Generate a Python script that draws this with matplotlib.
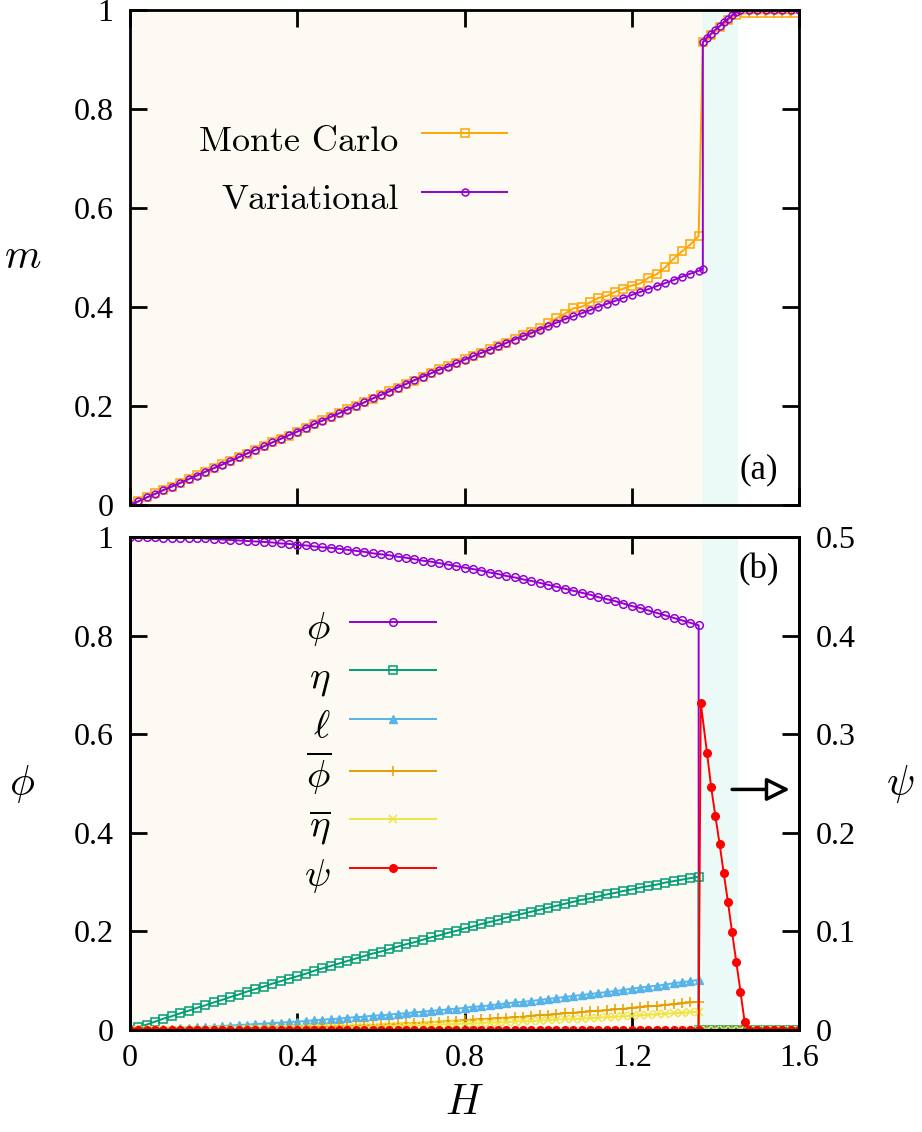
import numpy as np
import matplotlib
matplotlib.use('Agg')
from matplotlib import pyplot as plt
from matplotlib.ticker import FormatStrFormatter

plt.rcParams['font.family'] = 'Liberation Serif'
plt.rcParams['mathtext.fontset'] = 'cm'

# field grid below the transition (step 0.02)
H = list(np.round(np.arange(0, 1.3601, 0.02), 2))

# ---- (a) magnetisation ----
m_var = [0.000, 0.007, 0.015, 0.022, 0.030, 0.037, 0.044, 0.052, 0.059, 0.067,
         0.074, 0.081, 0.089, 0.096, 0.104, 0.111, 0.118, 0.126, 0.133, 0.141,
         0.148, 0.155, 0.163, 0.170, 0.178, 0.185, 0.192, 0.200, 0.207, 0.215,
         0.222, 0.229, 0.237, 0.244, 0.252, 0.259, 0.266, 0.273, 0.279, 0.286,
         0.293, 0.300, 0.307, 0.313, 0.320, 0.327, 0.334, 0.341, 0.347, 0.354,
         0.361, 0.368, 0.375, 0.381, 0.387, 0.393, 0.400, 0.406, 0.412, 0.418,
         0.424, 0.430, 0.436, 0.442, 0.448, 0.454, 0.461, 0.467, 0.473]
m_mc = [0.000, 0.008, 0.015, 0.023, 0.030, 0.037, 0.045, 0.052, 0.060, 0.066,
        0.074, 0.082, 0.089, 0.097, 0.103, 0.111, 0.119, 0.126, 0.134, 0.140,
        0.148, 0.156, 0.163, 0.171, 0.177, 0.185, 0.193, 0.200, 0.207, 0.214,
        0.222, 0.230, 0.237, 0.245, 0.251, 0.259, 0.266, 0.274, 0.280, 0.287,
        0.294, 0.301, 0.307, 0.314, 0.321, 0.328, 0.335, 0.343, 0.350, 0.358,
        0.368, 0.377, 0.386, 0.397, 0.400, 0.409, 0.418, 0.422, 0.430, 0.437,
        0.443, 0.447, 0.459, 0.466, 0.480, 0.497, 0.512, 0.526, 0.543]

H_var_hi = [1.37, 1.37, 1.38, 1.39, 1.40, 1.41, 1.42, 1.43, 1.44, 1.45, 1.46,
            1.48, 1.50, 1.52, 1.54, 1.56, 1.58, 1.60]
m_var_hi = [0.476, 0.935, 0.944, 0.952, 0.960, 0.967, 0.975, 0.982, 0.989, 0.995, 1.000,
            1.000, 1.000, 1.000, 1.000, 1.000, 1.000, 1.000]
H_mc_hi = [1.37, 1.39, 1.41, 1.43, 1.45, 1.47, 1.49, 1.51, 1.53, 1.55, 1.57, 1.59]
m_mc_hi = [0.935, 0.950, 0.966, 0.980, 0.990, 0.993, 0.993, 0.993, 0.993, 0.993, 0.993, 0.993]

# ---- (b) order parameters ----
phi = [1.000, 1.000, 1.000, 1.000, 0.999, 0.999, 0.999, 0.998, 0.998, 0.997,
       0.996, 0.995, 0.994, 0.993, 0.992, 0.991, 0.990, 0.989, 0.987, 0.986,
       0.984, 0.983, 0.981, 0.979, 0.978, 0.976, 0.974, 0.972, 0.970, 0.967,
       0.965, 0.963, 0.960, 0.958, 0.955, 0.952, 0.950, 0.947, 0.944, 0.941,
       0.938, 0.935, 0.932, 0.928, 0.925, 0.921, 0.918, 0.914, 0.911, 0.907,
       0.903, 0.899, 0.895, 0.891, 0.887, 0.883, 0.878, 0.874, 0.870, 0.865,
       0.860, 0.856, 0.851, 0.846, 0.841, 0.836, 0.831, 0.826, 0.821]
eta = [0.000, 0.006, 0.011, 0.017, 0.023, 0.028, 0.034, 0.039, 0.045, 0.050,
       0.056, 0.061, 0.067, 0.072, 0.078, 0.083, 0.088, 0.094, 0.099, 0.104,
       0.109, 0.114, 0.120, 0.125, 0.130, 0.135, 0.140, 0.145, 0.150, 0.155,
       0.159, 0.164, 0.169, 0.174, 0.178, 0.183, 0.188, 0.192, 0.197, 0.201,
       0.206, 0.210, 0.215, 0.219, 0.223, 0.228, 0.232, 0.236, 0.240, 0.244,
       0.248, 0.252, 0.256, 0.260, 0.264, 0.267, 0.271, 0.275, 0.278, 0.282,
       0.285, 0.289, 0.292, 0.295, 0.299, 0.302, 0.305, 0.308, 0.311]
ell = [0.000, 0.001, 0.001, 0.002, 0.003, 0.003, 0.004, 0.005, 0.006, 0.006,
       0.007, 0.008, 0.009, 0.010, 0.011, 0.012, 0.013, 0.014, 0.015, 0.016,
       0.017, 0.018, 0.020, 0.021, 0.022, 0.023, 0.025, 0.026, 0.027, 0.029,
       0.030, 0.031, 0.033, 0.034, 0.036, 0.037, 0.039, 0.040, 0.042, 0.043,
       0.045, 0.047, 0.048, 0.050, 0.052, 0.054, 0.056, 0.057, 0.059, 0.061,
       0.063, 0.065, 0.067, 0.069, 0.071, 0.073, 0.075, 0.077, 0.079, 0.081,
       0.084, 0.086, 0.088, 0.090, 0.092, 0.095, 0.097, 0.099, 0.102]
phibar = [0.000, 0.000, 0.000, 0.000, 0.000, 0.000, 0.000, 0.001, 0.001, 0.001,
          0.001, 0.002, 0.002, 0.002, 0.002, 0.003, 0.003, 0.004, 0.004, 0.004,
          0.005, 0.005, 0.006, 0.007, 0.007, 0.008, 0.008, 0.009, 0.010, 0.010,
          0.011, 0.012, 0.013, 0.014, 0.014, 0.015, 0.016, 0.017, 0.018, 0.019,
          0.020, 0.021, 0.022, 0.023, 0.024, 0.025, 0.026, 0.027, 0.029, 0.030,
          0.031, 0.032, 0.034, 0.035, 0.036, 0.038, 0.039, 0.040, 0.042, 0.043,
          0.045, 0.046, 0.048, 0.049, 0.051, 0.052, 0.054, 0.056, 0.057]
etabar = [0.000, 0.000, 0.000, 0.000, 0.000, 0.000, 0.000, 0.000, 0.001, 0.001,
          0.001, 0.001, 0.001, 0.001, 0.002, 0.002, 0.002, 0.002, 0.003, 0.003,
          0.003, 0.004, 0.004, 0.004, 0.005, 0.005, 0.005, 0.006, 0.006, 0.007,
          0.007, 0.008, 0.008, 0.009, 0.009, 0.010, 0.010, 0.011, 0.012, 0.012,
          0.013, 0.013, 0.014, 0.015, 0.015, 0.016, 0.017, 0.018, 0.018, 0.019,
          0.020, 0.021, 0.022, 0.022, 0.023, 0.024, 0.025, 0.026, 0.027, 0.028,
          0.029, 0.030, 0.031, 0.032, 0.033, 0.034, 0.035, 0.036, 0.037]
psi = [0.0] * len(H)

# above the transition everything but psi vanishes
H_hi = [1.36, 1.38, 1.40, 1.42, 1.44, 1.46, 1.48, 1.50, 1.52, 1.54, 1.56, 1.58, 1.60]
zero_hi = [0.0] * len(H_hi)
H_psi_hi = [1.365, 1.38, 1.39, 1.40, 1.41, 1.42, 1.43, 1.44, 1.45, 1.46, 1.47,
            1.48, 1.50, 1.52, 1.54, 1.56, 1.58, 1.60]
psi_hi = [0.332, 0.281, 0.246, 0.217, 0.189, 0.159, 0.130, 0.099, 0.069, 0.039, 0.008,
          0.0, 0.0, 0.0, 0.0, 0.0, 0.0, 0.0]

H_c1, H_c2 = 1.368, 1.455   # shaded phase boundaries
beige, cyan = '#fdfaf3', '#ebfaf7'

fig = plt.figure(figsize=(9.22, 11.32), dpi=100)
ax1 = fig.add_axes([0.141, 0.554, 0.7256, 0.4373])
ax2 = fig.add_axes([0.141, 0.0901, 0.7256, 0.4355])
ax3 = ax2.twinx()

for ax in (ax1, ax2):
    ax.axvspan(0, H_c1, color=beige, lw=0, zorder=0)
    ax.axvspan(H_c1, H_c2, color=cyan, lw=0, zorder=0)

lkw = dict(lw=1.4, mfc='none', mew=1.1)
ax1.plot(H + H_mc_hi, m_mc + m_mc_hi, color='#ffa500', marker='s', ms=6,
         label='Monte Carlo', **lkw)
ax1.plot(H + H_var_hi, m_var + m_var_hi, color='#9400d3', marker='o', ms=5,
         label='Variational', **lkw)

HB = H + H_hi
l_phi, = ax2.plot(HB, phi + zero_hi, color='#9400d3', marker='o', ms=5.5, **lkw)
l_eta, = ax2.plot(HB, eta + zero_hi, color='#009e73', marker='s', ms=5.5, **lkw)
l_ell, = ax2.plot(HB, ell + zero_hi, color='#56b4e9', marker='^', ms=6,
                  lw=1.4, mew=1.0)
l_pb, = ax2.plot(HB, phibar + zero_hi, color='#e69f00', marker='+', ms=6.5, lw=1.4, mew=1.1)
l_eb, = ax2.plot(HB, etabar + zero_hi, color='#f0e442', marker='x', ms=5.5, lw=1.4, mew=1.1)
l_psi, = ax3.plot(H + H_psi_hi, psi + psi_hi, color='#ff0000', marker='o', ms=5.5, lw=1.4)

ax1.set_xlim(0, 1.6)
ax1.set_ylim(0, 1)
ax2.set_xlim(0, 1.6)
ax2.set_ylim(0, 1)
ax3.set_ylim(0, 0.5)

ticks = [0, 0.4, 0.8, 1.2, 1.6]
for ax in (ax1, ax2):
    ax.set_xticks(ticks)
    ax.set_yticks([0, 0.2, 0.4, 0.6, 0.8, 1.0])
    ax.xaxis.set_major_formatter(FormatStrFormatter('%g'))
    ax.yaxis.set_major_formatter(FormatStrFormatter('%g'))
    ax.tick_params(direction='in', length=12, width=2, labelsize=23, top=True)
    ax.tick_params(axis='y', pad=12)
    ax.tick_params(axis='x', pad=10)
    for s in ax.spines.values():
        s.set_linewidth(2)
ax1.tick_params(right=True, labelbottom=False)
ax2.tick_params(right=False)
ax3.set_yticks([0, 0.1, 0.2, 0.3, 0.4, 0.5])
ax3.yaxis.set_major_formatter(FormatStrFormatter('%g'))
ax3.tick_params(direction='in', length=12, width=2, labelsize=23, pad=12)
for s in ax3.spines.values():
    s.set_linewidth(2)

ax1.set_ylabel('$m$', fontsize=30, rotation=0, va='center')
ax1.yaxis.set_label_coords(-0.161, 0.5)
ax2.set_ylabel(r'$\phi$', fontsize=30, rotation=0, va='center')
ax2.yaxis.set_label_coords(-0.161, 0.5)
ax3.set_ylabel(r'$\psi$', fontsize=30, rotation=0, va='center')
ax3.yaxis.set_label_coords(1.151, 0.5)
ax2.set_xlabel('$H$', fontsize=30)
ax2.xaxis.set_label_coords(0.5, -0.11)

ax1.text(0.94, 0.07, '(a)', transform=ax1.transAxes, fontsize=25, ha='center', va='center')
ax2.text(0.94, 0.933, '(b)', transform=ax2.transAxes, fontsize=25, ha='center', va='center')

ax3.annotate('', xy=(1.578, 0.244), xytext=(1.44, 0.244),
             arrowprops=dict(arrowstyle='-|>,head_length=0.7,head_width=0.35',
                             fc='white', ec='black', lw=2.5, mutation_scale=20,
                             shrinkA=0, shrinkB=0))

ax1.legend(loc='center right', bbox_to_anchor=(0.5635, 0.68), frameon=False,
           markerfirst=False, numpoints=1, handlelength=2.35, handletextpad=0.65,
           handleheight=1.6, labelspacing=0.33, borderpad=0, borderaxespad=0,
           prop={'family': 'cmr10', 'size': 26})

ax2.legend([l_phi, l_eta, l_ell, l_pb, l_eb, l_psi],
           [r'$\phi$', r'$\eta$', r'$\ell$', r'$\overline{\phi}$', r'$\overline{\eta}$', r'$\psi$'],
           loc='center right', bbox_to_anchor=(0.457, 0.569), frameon=False,
           markerfirst=False, numpoints=1, handlelength=2.2, handletextpad=0.5,
           handleheight=1.35, labelspacing=0.11, borderpad=0, borderaxespad=0,
           fontsize=28)

fig.savefig('out.png', dpi=100)
